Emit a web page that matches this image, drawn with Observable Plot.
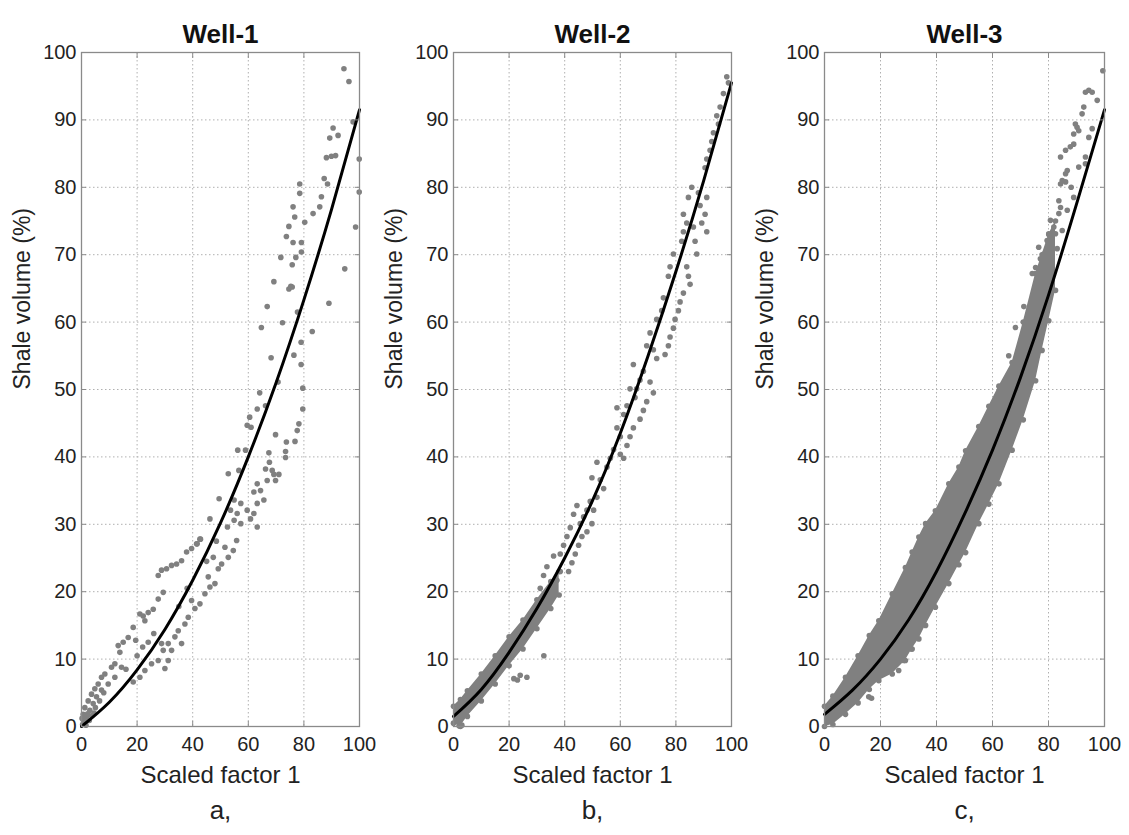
<!DOCTYPE html>
<html><head><meta charset="utf-8">
<script src="https://cdn.jsdelivr.net/npm/d3@7"></script>
<script src="https://cdn.jsdelivr.net/npm/@observablehq/plot@0.6"></script>
<style>
body{margin:0;background:#fff;}
#chart{position:relative;width:1129px;height:835px;font-family:"Liberation Sans",Arial,sans-serif;}
#chart svg{position:absolute;top:0;}
</style></head><body><div id="chart"></div>
<script>
const titles = ["Well-1", "Well-2", "Well-3"];
const letters = ["a,", "b,", "c,"];
const xLabel = "Scaled factor 1";
const yLabel = "Shale volume (%)";
const xTicks = [0, 20, 40, 60, 80, 100];
const yTicks = [0, 10, 20, 30, 40, 50, 60, 70, 80, 90, 100];

// fitted curves (read at x = 0,10,...,100)
const fitX = [0, 10, 20, 30, 40, 50, 60, 70, 80, 90, 100];
const fit1 = [0, 3.6, 8.4, 14.4, 21.7, 30.2, 40, 51, 63.3, 76.8, 91.5];
const fit2 = [1.5, 5.5, 11, 17.5, 25, 33.5, 43.5, 55, 67.5, 81, 95.5];
const fit3 = [1.8, 5.4, 10, 15.8, 23, 31.5, 41, 51.8, 64, 77.5, 91.5];

// Well-1 samples
const w1x = [94.4,96.2,97.7,99.9,99.9,98.6,94.7,90.5,92.3,89.3,88.1,89.9,91.4,87.3,88.5,86.3,85.7,83.3,78.5,78.5,76.1,76.7,80.3,74.6,73.7,76.1,79.1,79.1,71.7,77.1,75.8,75.3,74.6,69.2,66.8,89.0,77.7,64.7,72.3,83.0,
 75.8,79.0,76.4,68.2,79.0,79.6,70.7,64.1,66.2,63.2,79.6,60.5,59.6,61.0,78.2,77.6,69.8,76.8,73.7,73.4,73.4,56.2,59.0,67.4,67.6,56.6,52.8,66.2,68.6,69.2,71.0,69.8,66.8,63.2,64.4,62.0,65.6,63.2,49.5,54.9,57.3,53.6,56.0,59.6,60.8,62.0,54.9,57.3,52.5,63.2,46.2,42.8,41.6,
 42.6,41.4,39.6,37.8,36.0,34.2,32.4,30.6,28.8,27.6,29.4,27.6,25.8,24.0,22.2,21.0,22.8,18.6,16.8,15.0,13.2,13.8,12.0,10.8,8.4,7.2,6.0,4.8,3.6,2.4,1.2,0.6,9.6,7.2,5.4,4.2,3.0,1.8,12.0,14.4,
 18.6,21.0,22.8,25.2,27.6,30.0,31.2,29.4,28.8,31.2,33.6,36.0,32.4,34.8,37.2,38.4,40.8,39.6,42.6,44.4,46.2,48.0,45.6,49.2,50.4,47.4,52.8,54.6,51.6,55.8,
 0.4,1.0,1.6,2.2,2.8,3.6,0.2,5.0,6.5,8.0,4.5,20.0,22.0,24.0,26.0,35.0,38.0,16.0,19.5,45.0,48.5];
const w1y = [97.6,95.7,89.7,84.2,79.3,74.1,67.9,88.8,87.7,87.3,84.4,84.6,84.7,81.3,80.5,78.6,77.1,76.1,80.5,79.1,77.1,75.6,74.8,74.2,72.7,71.8,71.8,70.4,69.6,69.6,68.5,65.3,64.9,66.0,62.3,62.8,61.5,59.2,59.9,58.6,
 65.2,57.0,55.1,54.7,53.7,50.2,51.1,49.5,47.6,47.1,47.1,45.9,44.7,44.4,44.9,43.9,43.3,42.3,42.2,40.8,39.9,41.0,41.0,40.6,39.2,38.0,37.5,38.2,38.0,37.4,37.4,36.5,36.5,36.0,35.0,34.8,33.6,33.1,33.8,33.6,33.1,32.1,31.6,32.1,30.8,31.6,30.6,30.1,29.6,29.6,30.8,27.8,27.1,
 27.8,27.1,26.4,25.9,24.6,24.1,23.9,23.4,23.2,22.4,19.9,18.9,17.4,16.9,16.4,16.7,15.7,14.7,13.2,12.5,12.0,11.0,9.3,8.8,7.8,7.3,6.3,5.6,4.8,3.8,2.8,1.8,6.3,5.4,4.4,3.4,2.4,1.4,7.3,8.8,
 6.6,7.3,8.3,9.3,9.8,8.6,9.8,11.3,12.3,12.3,13.3,12.3,11.3,14.2,15.2,16.2,17.5,18.7,18.2,19.7,20.7,21.2,22.2,23.4,24.1,25.1,25.1,26.1,26.6,27.6,
 0.3,0.9,0.2,1.9,0.9,1.6,1.2,2.8,3.8,5.0,2.0,10.5,11.8,12.5,13.8,17.8,20.5,8.5,12.8,24.5,27.5];

// Well-2 samples
const w2x = [98.3,98.9,97.1,95.9,94.7,95.3,93.5,92.9,92.3,91.1,90.5,85.7,84.5,91.1,90.5,89.3,91.1,88.1,88.7,82.7,83.9,82.7,82.1,86.3,86.9,87.5,79.1,77.9,77.3,83.9,84.5,85.1,82.7,81.5,80.9,75.5,74.9,73.1,79.7,79.1,77.9,77.3,76.1,70.7,69.5,71.9,73.1,64.7,68.3,67.1,65.9,65.3,70.7,71.9,69.5,68.3,67.1,63.5,62.4,61.2,58.8,64.7,63.5,62.4,58.8,60.0,57.6,56.4,55.2,60.0,61.2,51.6,49.8,52.8,54.0,51.6,49.2,48.0,46.8,45.6,50.4,49.8,48.0,46.2,44.4,43.2,42.0,40.8,39.6,38.4,45.0,43.8,42.6,41.4,36.0,33.6,32.4,31.2,38.4,37.2,36.0,34.8,
 21.7,24.0,26.4,32.5,23.0,2.0,3.0];
const w2y = [96.4,95.5,93.9,91.9,90.6,89.4,88.1,86.8,85.5,84.2,82.9,80.0,78.5,78.5,76.0,74.7,73.4,79.2,77.3,76.0,74.7,73.4,72.0,74.1,72.0,70.1,70.1,68.2,66.8,68.2,66.8,65.6,64.3,63.0,61.7,63.6,61.7,60.4,60.4,59.1,57.8,56.5,55.2,58.4,56.5,55.9,54.6,53.7,52.7,51.4,50.1,48.8,51.1,49.5,48.2,46.9,45.6,50.1,47.6,46.3,47.3,44.3,43.0,41.7,44.3,43.0,41.1,39.8,38.5,40.4,39.8,39.2,36.9,36.6,35.3,34.0,33.4,32.1,31.1,30.1,32.1,30.1,28.9,28.2,32.8,31.5,29.5,28.2,26.9,25.6,26.9,25.6,24.3,23.0,25.3,23.7,22.4,20.5,23.0,21.7,20.5,19.2,
 7.1,7.6,7.3,10.5,6.9,0.1,0.2];
// Well-2 dense band (edges)
const b2x = [0, 2.5, 5, 10, 15, 20, 25, 30, 35, 38];
const b2hi = [3.0, 4.0, 5.3, 7.8, 10.5, 13.3, 15.8, 18.8, 21.5, 23.0];
const b2lo = [0.5, 0.0, 1.5, 3.8, 6.3, 9.0, 11.5, 14.5, 17.5, 19.5];

// Well-3 samples
const w3x = [99.4,93.2,94.4,95.6,97.4,92.6,92.0,89.6,90.2,90.8,89.0,95.6,94.4,87.8,86.1,89.0,93.2,93.2,84.3,90.8,86.7,86.1,86.1,84.3,84.9,88.1,89.0,83.7,84.3,83.7,86.7,80.7,81.9,82.5,80.1,79.5,84.9,76.5,78.3,77.1,81.3,83.1,75.4,74.2,76.5,78.9,80.7,78.3,
 15.8,16.8,26.5,28.3,31.0,65.8,68.2,71.2];
const w3y = [97.3,94.1,94.4,94.1,92.9,91.9,90.9,89.4,88.9,88.4,87.9,88.7,87.4,86.0,85.5,86.4,84.5,83.5,84.5,83.0,82.5,82.0,80.8,80.5,81.0,80.0,78.5,78.0,77.0,76.1,76.6,75.1,74.1,73.1,73.1,72.1,73.6,71.1,70.1,69.4,70.1,70.9,68.1,67.2,67.2,68.1,67.2,66.4,
 4.4,4.2,8.3,9.8,11.5,55.0,59.2,62.3];
// Well-3 dense band (edges)
const b3x = [0, 3, 7.5, 12, 16, 19.4, 24.2, 28.9, 31.3, 33.7, 36.1, 39.6, 44.4, 48, 50.4, 55.1, 58.7, 62.3, 67, 71, 75.4, 77.7, 80.1, 82.5];
const b3hi = [3.0, 4.5, 7.3, 10.5, 13.5, 15.7, 19.7, 23.6, 25.9, 28.1, 30.1, 32.0, 36.0, 38.5, 40.9, 44.5, 47.5, 50.5, 54.0, 60.0, 67.2, 70.0, 73.0, 75.0];
const b3lo = [0.0, 0.3, 1.8, 3.5, 5.5, 6.8, 7.8, 9.8, 11.5, 13.0, 15.0, 17.7, 21.2, 24.0, 25.8, 30.1, 33.0, 36.0, 41.0, 45.5, 51.3, 55.8, 60.2, 64.7];

const GRAY = "#808080";
const FRAME = "#8a8a8a";
const panels = [
  {left: 0, width: 372, ml: 81, mr: 13, px: w1x, py: w1y, fit: fit1, band: null},
  {left: 372, width: 372, ml: 81, mr: 13, px: w2x, py: w2y, fit: fit2, band: [b2x, b2hi, b2lo]},
  {left: 744, width: 385, ml: 80, mr: 25, px: w3x, py: w3y, fit: fit3, band: [b3x, b3hi, b3lo]}
];

const chart = document.getElementById("chart");
panels.forEach((p, i) => {
  const pts = p.px.map((x, j) => ({x, y: p.py[j]}));
  const fit = fitX.map((x, j) => ({x, y: p.fit[j]}));
  const marks = [
    Plot.gridX(xTicks.slice(1, -1), {stroke: "#b0b0b0", strokeOpacity: 1, strokeDasharray: "1.5,2.5"}),
    Plot.gridY(yTicks.slice(1, -1), {stroke: "#b0b0b0", strokeOpacity: 1, strokeDasharray: "1.5,2.5"})
  ];
  if (p.band) {
    const band = p.band[0].map((x, j) => ({x, hi: p.band[1][j], lo: p.band[2][j]}));
    marks.push(
      Plot.areaY(band, {x: "x", y1: "lo", y2: "hi", fill: GRAY}),
      Plot.dot(band, {x: "x", y: "hi", r: 2.8, fill: GRAY}),
      Plot.dot(band, {x: "x", y: "lo", r: 2.8, fill: GRAY})
    );
  }
  marks.push(
    Plot.dot(pts, {x: "x", y: "y", r: 2.8, fill: GRAY}),
    Plot.line(fit, {x: "x", y: "y", stroke: "#000", strokeWidth: 3, curve: "natural"}),
    Plot.frame({stroke: FRAME, strokeWidth: 1.3}),
    Plot.axisX(xTicks, {anchor: "bottom", tickSize: -5, tickFormat: () => "", label: null, stroke: FRAME}),
    Plot.axisX(xTicks, {anchor: "top", tickSize: -5, tickFormat: () => "", label: null, stroke: FRAME}),
    Plot.axisY(yTicks, {anchor: "left", tickSize: -5, tickFormat: () => "", label: null, stroke: FRAME}),
    Plot.axisY(yTicks, {anchor: "right", tickSize: -5, tickFormat: () => "", label: null, stroke: FRAME}),
    Plot.axisX(xTicks, {anchor: "bottom", tickSize: 0, tickPadding: 10, fontSize: 20, label: null, fill: "#222"}),
    Plot.axisY(yTicks, {anchor: "left", tickSize: 0, tickPadding: 5, fontSize: 20, label: null, fill: "#222"}),
    Plot.text([titles[i]], {text: d => d, frameAnchor: "top", dy: -28, fontSize: 26, fontWeight: "bold", fill: "#111"}),
    Plot.text([xLabel], {text: d => d, frameAnchor: "bottom", dy: 56, fontSize: 24, fill: "#222"}),
    Plot.text([letters[i]], {text: d => d, frameAnchor: "bottom", dy: 92, fontSize: 26, fill: "#222"}),
    Plot.text([yLabel], {text: d => d, frameAnchor: "left", dx: -59, rotate: -90, fontSize: 23, fill: "#222"})
  );
  const svg = Plot.plot({
    width: p.width, height: 835,
    marginLeft: p.ml, marginRight: p.mr, marginTop: 52, marginBottom: 109,
    style: {fontFamily: "'Liberation Sans', Arial, sans-serif", background: "transparent", overflow: "visible"},
    x: {domain: [0, 100]}, y: {domain: [0, 100]},
    marks
  });
  svg.style.left = p.left + "px";
  chart.appendChild(svg);
});
</script></body></html>
